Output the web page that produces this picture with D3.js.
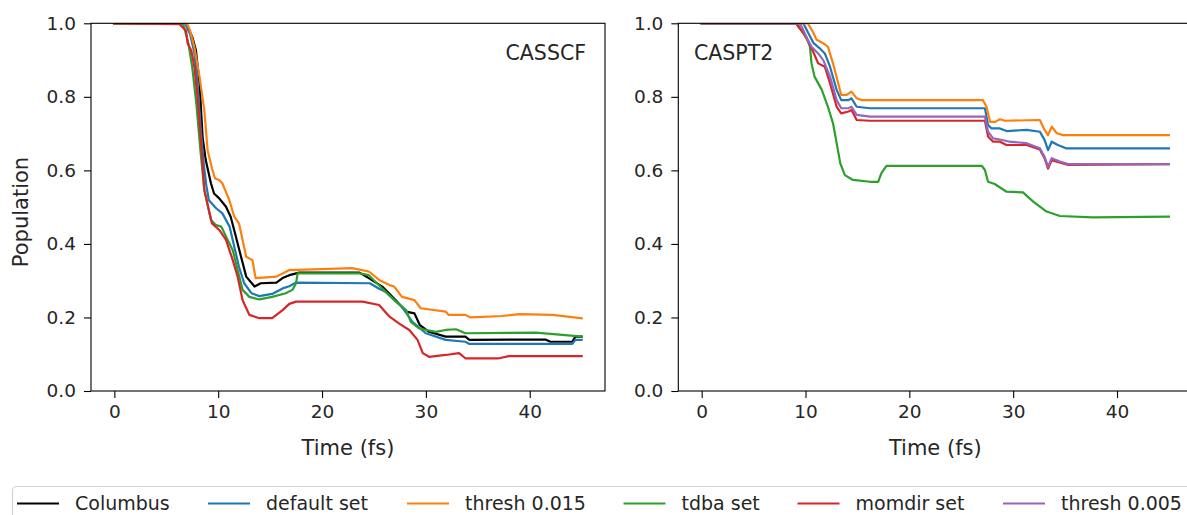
<!DOCTYPE html>
<html><head><meta charset="utf-8">
<script src="https://cdn.jsdelivr.net/npm/d3@7"></script>
<style>
html,body{margin:0;padding:0;background:#fff;overflow:hidden;}
text{font-family:"DejaVu Sans",sans-serif;fill:#262626;}
</style></head>
<body>
<svg id="chart" width="1187" height="515"></svg>
<script>
// ---------- data ----------
const seriesNames = ["Columbus","default set","thresh 0.015","tdba set","momdir set","thresh 0.005"];
const seriesColors = ["#000000","#1f77b4","#ff7f0e","#2ca02c","#d62728","#9467bd"];
const panelTitles = ["CASSCF","CASPT2"];
const xTicks = [0,10,20,30,40];
const yTicks = [0,0.2,0.4,0.6,0.8,1.0];

// CASSCF panel: [time fs, population]
const casscfColumbus = [[0,1],[6.9,1],[7.5,0.963],[7.85,0.927],[8.2,0.837],[8.5,0.69],[8.8,0.628],[9.3,0.565],[9.6,0.537],[10.1,0.524],[10.75,0.501],[11.2,0.474],[11.7,0.42],[12.2,0.365],[12.7,0.311],[13.5,0.284],[14.1,0.293],[15.6,0.295],[16.2,0.307],[16.85,0.315],[17.8,0.322],[23.6,0.322],[24.5,0.307],[25.8,0.284],[27.1,0.247],[28.1,0.216],[28.9,0.211],[29.4,0.18],[30.3,0.161],[31.9,0.148],[33.8,0.148],[34.2,0.139],[41.5,0.14],[42,0.134],[44.1,0.134],[44.4,0.148],[45,0.148]];
const casscfDefault = [[0,1],[6.8,1],[7.3,0.97],[7.7,0.92],[8.0,0.84],[8.3,0.72],[8.6,0.62],[8.85,0.56],[9.1,0.519],[9.8,0.497],[10.4,0.483],[11.1,0.447],[11.55,0.392],[12.0,0.338],[12.5,0.293],[13.2,0.266],[13.95,0.258],[15.2,0.264],[16.2,0.279],[16.85,0.285],[17.5,0.295],[24.6,0.293],[25.5,0.278],[26.1,0.27],[27.7,0.229],[28.7,0.188],[30,0.157],[31.9,0.139],[33.8,0.134],[34.2,0.128],[44.1,0.128],[44.4,0.139],[45,0.139]];
const casscfThresh015 = [[0,1],[7.0,1],[7.3,0.98],[7.7,0.936],[8.2,0.855],[8.66,0.764],[8.98,0.655],[9.4,0.605],[9.7,0.578],[10.1,0.574],[10.4,0.565],[11.07,0.519],[11.55,0.474],[12.0,0.456],[12.7,0.365],[13.3,0.356],[13.6,0.307],[15.6,0.311],[16.85,0.329],[22.9,0.334],[24.5,0.325],[25.5,0.302],[26.5,0.288],[26.95,0.284],[27.7,0.256],[28.9,0.247],[29.5,0.225],[31.9,0.216],[32.2,0.207],[33.8,0.207],[34.3,0.2],[37.35,0.204],[39,0.209],[42.2,0.207],[45,0.198]];
const casscfTdba = [[0,1],[6.6,1],[7.1,0.95],[7.5,0.88],[7.9,0.78],[8.3,0.65],[8.66,0.547],[9.3,0.465],[9.8,0.451],[10.3,0.447],[10.75,0.42],[11.4,0.383],[11.87,0.329],[12.35,0.275],[13.0,0.256],[13.95,0.249],[15.2,0.256],[16.5,0.266],[17.15,0.275],[17.5,0.293],[17.65,0.32],[23.6,0.32],[24.5,0.315],[25.8,0.279],[27.1,0.243],[28.1,0.22],[28.55,0.188],[29.35,0.17],[30.95,0.161],[31.9,0.166],[32.9,0.168],[33.8,0.157],[40.6,0.159],[45,0.148]];
const casscfMomdir = [[0,1],[6.26,0.998],[6.9,0.98],[7.05,0.946],[7.4,0.927],[7.7,0.882],[8.0,0.80],[8.35,0.674],[8.66,0.547],[9.1,0.492],[9.4,0.456],[10.1,0.438],[10.75,0.411],[11.4,0.356],[11.87,0.311],[12.35,0.247],[13.0,0.207],[13.95,0.198],[15.2,0.198],[16.2,0.22],[16.85,0.237],[17.5,0.243],[23.9,0.243],[25.5,0.234],[26.5,0.202],[27.4,0.184],[28.4,0.166],[29.2,0.139],[29.7,0.103],[30.3,0.093],[31.9,0.098],[33.2,0.103],[33.8,0.089],[37.05,0.089],[38,0.095],[45,0.095]];

// CASPT2 panel
const caspt2Default = [[0,1],[9.79,1],[10.28,0.973],[10.78,0.946],[11.37,0.932],[11.86,0.918],[12.36,0.882],[13.0,0.819],[13.44,0.791],[14.14,0.791],[14.43,0.796],[14.93,0.773],[16.21,0.769],[27.28,0.769],[27.58,0.723],[27.93,0.714],[28.72,0.714],[29.36,0.707],[31.29,0.71],[32.57,0.705],[33.02,0.683],[33.36,0.655],[33.71,0.678],[34.3,0.669],[35.09,0.66],[45,0.66]];
const caspt2Thresh015 = [[0,1],[10.23,1],[10.78,0.973],[11.07,0.955],[11.71,0.946],[12.16,0.936],[12.65,0.891],[13.15,0.837],[13.44,0.805],[13.94,0.805],[14.43,0.814],[14.93,0.796],[15.42,0.791],[27.09,0.791],[27.43,0.773],[27.78,0.732],[28.27,0.732],[28.72,0.739],[29.21,0.735],[32.57,0.737],[33.02,0.71],[33.36,0.696],[33.71,0.719],[34.2,0.701],[34.8,0.696],[45,0.696]];
const caspt2Tdba = [[0,1],[9.09,1],[9.29,0.991],[10.08,0.963],[10.43,0.936],[10.58,0.891],[10.87,0.855],[11.57,0.819],[12.16,0.773],[12.65,0.728],[13.0,0.674],[13.35,0.619],[13.79,0.587],[14.58,0.574],[16.21,0.569],[17.0,0.569],[17.3,0.592],[17.79,0.612],[26.99,0.612],[27.28,0.601],[27.58,0.569],[28.22,0.563],[29.36,0.542],[30.94,0.54],[31.93,0.515],[33.22,0.488],[34.5,0.476],[37.66,0.472],[45,0.474]];
const caspt2Momdir = [[0,1],[9.14,1],[9.79,0.973],[10.28,0.95],[10.78,0.92],[11.22,0.891],[11.86,0.882],[12.36,0.837],[13.0,0.773],[13.44,0.755],[14.14,0.76],[14.43,0.764],[14.93,0.737],[16.21,0.735],[27.28,0.735],[27.58,0.692],[28.07,0.678],[28.72,0.678],[29.36,0.669],[31.29,0.669],[32.57,0.657],[33.02,0.633],[33.36,0.605],[33.71,0.628],[35.29,0.615],[45,0.617]];
const caspt2Thresh005 = [[0,1],[9.39,1],[9.64,0.991],[10.08,0.963],[10.58,0.936],[11.22,0.918],[11.71,0.9],[12.36,0.855],[13.0,0.791],[13.44,0.769],[14.14,0.769],[14.43,0.773],[14.93,0.751],[16.21,0.746],[27.28,0.746],[27.58,0.705],[28.07,0.687],[28.72,0.684],[29.66,0.678],[31.29,0.674],[32.57,0.66],[33.02,0.637],[33.36,0.61],[33.71,0.633],[34.5,0.624],[35.29,0.617],[45,0.617]];

// ---------- build ----------
const panels = [
  { title: panelTitles[0], xDomain:[-2.25,47.25], left:91, right:605,
    series:[[0,casscfColumbus],[1,casscfDefault],[2,casscfThresh015],[3,casscfTdba],[4,casscfMomdir]] },
  { title: panelTitles[1], xDomain:[-2.25,47.25], left:678.3, right:1192.3,
    series:[[1,caspt2Default],[2,caspt2Thresh015],[3,caspt2Tdba],[4,caspt2Momdir],[5,caspt2Thresh005]] }
];
const plotTop = 23.3, plotBottom = 391;
const svg = d3.select("#chart");
const fmt = d3.format(".1f");

panels.forEach((p, pi) => {
  const x = d3.scaleLinear().domain(p.xDomain).range([p.left, p.right]);
  const y = d3.scaleLinear().domain([0,1]).range([plotBottom, plotTop]);
  const g = svg.append("g");
  const clipId = "clip"+pi;
  svg.append("clipPath").attr("id", clipId).append("rect")
    .attr("x", p.left).attr("y", plotTop).attr("width", p.right-p.left).attr("height", plotBottom-plotTop);

  const line = d3.line().x(d=>x(d[0])).y(d=>y(d[1]));
  const lg = g.append("g").attr("clip-path", `url(#${clipId})`);
  p.series.forEach(([si, data]) => {
    lg.append("path").datum(data).attr("d", line)
      .attr("fill","none").attr("stroke", seriesColors[si])
      .attr("stroke-width", 2.2).attr("stroke-linejoin","round").attr("stroke-linecap","square");
  });

  const xAxis = d3.axisBottom(x).tickValues(xTicks).tickSize(7).tickPadding(7).tickSizeOuter(0);
  const yAxis = d3.axisLeft(y).tickValues(yTicks).tickFormat(fmt).tickSize(7).tickPadding(8).tickSizeOuter(0);
  const gx = g.append("g").attr("transform", `translate(0,${plotBottom})`).call(xAxis);
  const gy = g.append("g").attr("transform", `translate(${p.left},0)`).call(yAxis);
  [gx, gy].forEach(a => {
    a.select(".domain").remove();
    a.selectAll(".tick line").attr("stroke","#000").attr("stroke-width",1.1);
    a.selectAll(".tick text").attr("font-size","18.5px").attr("fill","#262626")
      .style("font-family","'DejaVu Sans',sans-serif");
  });
  g.append("rect").attr("x", p.left).attr("y", plotTop).attr("width", p.right-p.left).attr("height", plotBottom-plotTop)
    .attr("fill","none").attr("stroke","#000").attr("stroke-width",1.1);

  g.append("text").attr("x", x(22.5)).attr("y", 455)
    .attr("text-anchor","middle").attr("font-size","21px").text("Time (fs)");

  if (pi === 0) {
    g.append("text").attr("x", 586).attr("y", 60).attr("text-anchor","end").attr("font-size","20.5px").text(p.title);
  } else {
    g.append("text").attr("x", 694).attr("y", 60).attr("text-anchor","start").attr("font-size","20.5px").text(p.title);
  }
});

svg.append("text").attr("transform","translate(28,212) rotate(-90)")
  .attr("text-anchor","middle").attr("font-size","21px").text("Population");

const leg = svg.append("g");
leg.append("rect").attr("x",12.5).attr("y",486.5).attr("width",1200).attr("height",50).attr("rx",4)
  .attr("fill","#fff").attr("stroke","#d3d3d3").attr("stroke-width",1.2);
const legX = [17,208,407,623.5,797.5,1003];
seriesNames.forEach((n,i) => {
  leg.append("line").attr("x1",legX[i]).attr("x2",legX[i]+42).attr("y1",503.5).attr("y2",503.5)
    .attr("stroke",seriesColors[i]).attr("stroke-width",2.2);
  leg.append("text").attr("x",legX[i]+58).attr("y",510).attr("font-size","19px").text(n);
});
</script>
</body></html>
